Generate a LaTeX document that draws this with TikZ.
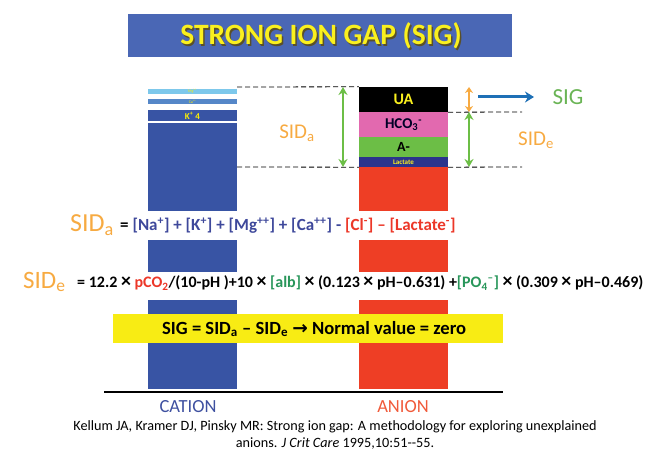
\documentclass[tikz,border=0pt]{standalone}
\usepackage{fontspec}
\setmainfont{Carlito}
\newfontfamily\djv{DejaVu Sans}
\usetikzlibrary{arrows.meta}
\definecolor{titleblue}{RGB}{74,103,181}
\definecolor{catblue}{RGB}{56,84,164}
\definecolor{mgblue}{RGB}{125,200,235}
\definecolor{cablue}{RGB}{85,135,200}
\definecolor{anred}{RGB}{238,62,37}
\definecolor{hcopink}{RGB}{226,105,175}
\definecolor{agreen}{RGB}{108,190,70}
\definecolor{lacnavy}{RGB}{43,52,140}
\definecolor{sidorange}{RGB}{247,170,65}
\definecolor{siggreen}{RGB}{106,180,85}
\definecolor{arrowblue}{RGB}{30,112,182}
\definecolor{fblue}{RGB}{62,72,155}
\definecolor{fred}{RGB}{236,55,40}
\definecolor{fgreen}{RGB}{40,150,90}
\definecolor{boxyellow}{RGB}{248,236,20}
\definecolor{titleyellow}{RGB}{250,240,30}
\definecolor{shadowcol}{RGB}{90,80,40}
\definecolor{catlabel}{RGB}{62,80,160}
\definecolor{anlabel}{RGB}{240,90,58}
\newcommand{\tms}{{\scalebox{1.25}{×}}}
\tikzset{
  seg/.style={draw=none, inner sep=0pt, minimum width=89pt, anchor=center},
  dashline/.style={black, line width=0.8pt, dash pattern=on 5pt off 3pt},
  dblarrow/.style={line width=2.6pt, {Stealth[length=8pt,width=9pt]}-{Stealth[length=8pt,width=9pt]}},
  txt/.style={inner sep=0pt, anchor=west},
}
\begin{document}
\begin{tikzpicture}[x=1pt,y=-1pt]
\useasboundingbox (0,0) rectangle (646,470);
% title
\node[fill=titleblue, minimum width=384pt, minimum height=43pt, inner sep=0pt] (titlebar) at (320,35.5) {};
\node[inner sep=0pt, text=shadowcol] (titleshadow) at (322.5,37.5) {\fontsize{29.5}{30}\selectfont\bfseries STRONG ION GAP (SIG)};
\node[inner sep=0pt, text=titleyellow] (title) at (321,36) {\fontsize{29.5}{30}\selectfont\bfseries STRONG ION GAP (SIG)};
% cation bar
\node[seg, fill=catblue, minimum height=266pt] (catmain) at (192.5,256) {};
\node[seg, fill=mgblue, minimum height=5pt] (mg) at (192.5,91.5) {\fontsize{4}{4}\selectfont\color{yellow}Mg\textsuperscript{++}};
\node[seg, fill=cablue, minimum height=5pt] (ca) at (192.5,101.5) {\fontsize{4}{4}\selectfont\color{yellow}Ca\textsuperscript{++}};
\node[seg, fill=catblue, minimum height=11pt] (kk) at (192.5,115.5) {\fontsize{9}{9}\selectfont\bfseries\color{yellow}K\textsuperscript{+} 4};
\fill[white] (148,121) rectangle (237,123);
% anion bar
\node[seg, fill=anred, minimum height=222pt] (red) at (403.5,278) {};
\node[seg, fill=black, minimum height=25pt] (ua) at (403.5,99.5) {\fontsize{16}{16}\selectfont\bfseries\color{titleyellow}UA};
\node[seg, fill=hcopink, minimum height=25pt] (hco) at (403.5,124.5) {\fontsize{15}{15}\selectfont\bfseries\color{black!85!blue}HCO\textsubscript{3}\textsuperscript{-}};
\node[seg, fill=agreen, minimum height=20pt] (am) at (403.5,147) {\fontsize{14}{14}\selectfont\bfseries A-};
\node[seg, fill=lacnavy, minimum height=10pt] (lac) at (403.5,162) {\fontsize{7}{7}\selectfont\bfseries\color{titleyellow}Lactate};
% dashed lines
\coordinate (d1) at (237,87);
\coordinate (d2) at (522,112);
\coordinate (d3) at (237,167);
\coordinate (d4) at (522,167);
\draw[dashline] (d1) -- (ua.north west);
\draw[dashline] (ua.south east) -- (d2);
\draw[dashline] (d3) -- (lac.south west);
\draw[dashline] (lac.south east) -- (d4);
% arrows
\coordinate (ga1) at (343,87);
\coordinate (ga2) at (343,167);
\draw[dblarrow, agreen] (ga1) -- (ga2);
\coordinate (oa1) at (469,87);
\coordinate (oa2) at (469,112);
\coordinate (ea2) at (469,167);
\draw[line width=2.4pt, sidorange, {Stealth[length=6pt,width=8pt]}-{Stealth[length=6pt,width=8pt]}] (oa1) -- (oa2);
\draw[dblarrow, agreen] (oa2) -- (ea2);
\coordinate (ba1) at (478,97);
\coordinate (ba2) at (534,97);
\draw[line width=3pt, arrowblue, -{Stealth[length=9pt,width=11pt]}] (ba1) -- (ba2);
% labels
\node[inner sep=0pt, text=sidorange] (sidalab) at (297,133) {\fontsize{21}{21}\selectfont SID\textsubscript{a}};
\node[inner sep=0pt, text=sidorange] (sidelab) at (536,140) {\fontsize{21}{21}\selectfont SID\textsubscript{e}};
\node[inner sep=0pt, text=siggreen] (siglab) at (568,97) {\fontsize{23}{23}\selectfont SIG};
% white bands
\fill[white] (55,211) rectangle (480,240);
\fill[white] (12,272) rectangle (640,300);
% formula a
\node[txt, text=sidorange] (fa1) at (70,225) {\fontsize{26}{26}\selectfont SID\textsubscript{a}};
\node[txt] (fa2) at (120,226) {\fontsize{17}{17}\selectfont\bfseries = {\color{fblue}[Na\textsuperscript{+}] + [K\textsuperscript{+}] + [Mg\textsuperscript{++}] + [Ca\textsuperscript{++}] -} {\color{fred}[Cl\textsuperscript{-}] – [Lactate\textsuperscript{-}]}};
% formula e
\node[txt, text=sidorange] (fe1) at (23,282) {\fontsize{25}{25}\selectfont SID\textsubscript{e}};
\node[txt] (fe2) at (77,283) {\fontsize{16}{16}\selectfont\bfseries = 12.2 \tms{} {\color{fred}pCO\textsubscript{2}}/(10-pH )+10 \tms{} {\color{fgreen}[alb]} \tms{} (0.123 \tms{} pH–0.631) +{\color{fgreen}[PO\textsubscript{4}\textsuperscript{–}]} \tms{} (0.309 \tms{} pH–0.469)};
% SIG box
\node[fill=boxyellow, minimum width=390pt, minimum height=29pt, inner sep=0pt] (sigbox) at (308,328.5) {};
\node[txt] (sigtext) at (162,329) {\fontsize{18.6}{18.6}\selectfont\bfseries SIG = SID\textsubscript{a} – SID\textsubscript{e} {\djv\bfseries →} Normal value = zero};
% baseline
\coordinate (bl1) at (104,392);
\coordinate (bl2) at (503,392);
\draw[black, line width=2.5pt] (bl1) -- (bl2);
\node[inner sep=0pt, text=catlabel] (cation) at (188,407) {\fontsize{18.5}{18.5}\selectfont CATION};
\node[inner sep=0pt, text=anlabel] (anion) at (403,407) {\fontsize{18.5}{18.5}\selectfont ANION};
% citation
\node[inner sep=0pt] (cit1) at (335,427) {\fontsize{14.2}{14.2}\selectfont Kellum JA, Kramer DJ, Pinsky MR: Strong ion gap: A methodology for exploring unexplained};
\node[inner sep=0pt] (cit2) at (335,444) {\fontsize{14.2}{14.2}\selectfont anions. \textit{J Crit Care} 1995,10:51{-}{-}55.};
\end{tikzpicture}
\end{document}
